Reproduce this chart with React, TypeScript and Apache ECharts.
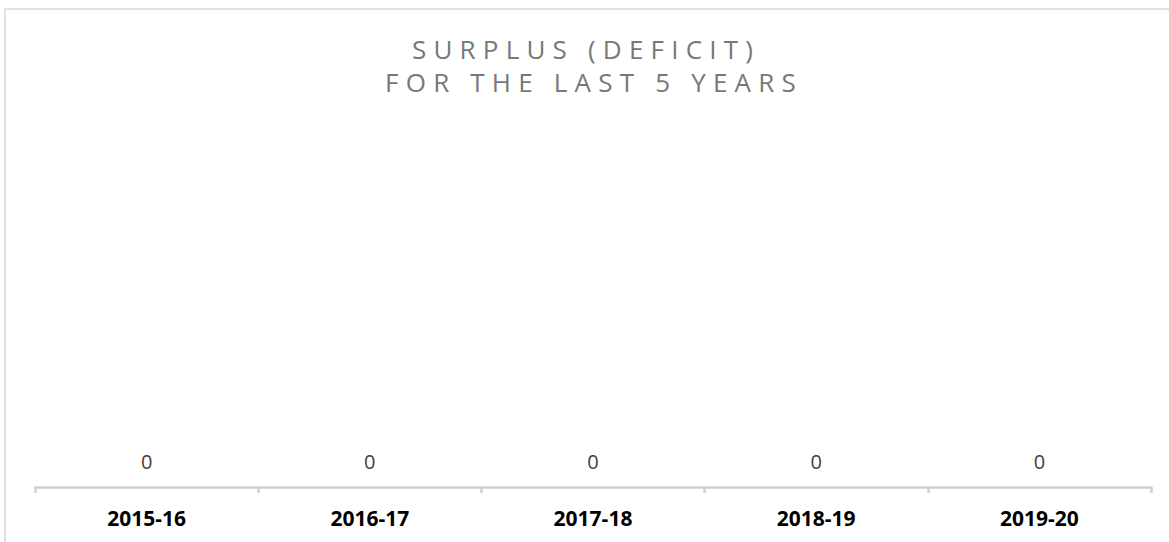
import React, { useEffect, useRef } from "react";
import * as echarts from "echarts";

const categories = ["2015-16", "2016-17", "2017-18", "2018-19", "2019-20"];
const surplusValues = [0, 0, 0, 0, 0];
const titleLines = ["SURPLUS (DEFICIT)", "FOR THE LAST 5 YEARS"];

const TITLE_COLOR = "#787878";

export default function App() {
  const ref = useRef<HTMLDivElement>(null);

  useEffect(() => {
    if (!ref.current) return;
    const chart = echarts.init(ref.current, undefined, { renderer: "svg" });
    const titleStyle = {
      fontFamily: "Open Sans",
      fontSize: 26,
      fontWeight: "normal",
      color: TITLE_COLOR,
      lineHeight: 30,
    };
    chart.setOption({
      animation: false,
      backgroundColor: "#ffffff",
      title: titleLines.map((t, i) => ({
        text: t,
        left: i === 0 ? 586 : 594,
        top: 34 + i * 33,
        textAlign: "center",
        padding: 0,
        textStyle: titleStyle,
      })),
      graphic: [
        {
          type: "rect",
          shape: { x: 5, y: 9, width: 1300, height: 700 },
          style: { fill: "none", stroke: "#d9d9d9", lineWidth: 1.5 },
          silent: true,
          z: 100,
        },
      ],
      grid: { left: 35, right: 18, top: 130, bottom: 55, containLabel: false },
      xAxis: {
        type: "category",
        data: categories,
        axisLine: { show: true, lineStyle: { color: "#d0d0d0", width: 2.5 } },
        axisTick: { show: true, length: 6, lineStyle: { color: "#d0d0d0", width: 2.5 } },
        axisLabel: {
          margin: 20,
          fontFamily: "Open Sans",
          fontSize: 21,
          fontWeight: "bold",
          color: "#000000",
          lineHeight: 22,
        },
        splitLine: { show: false },
      },
      yAxis: {
        type: "value",
        min: 0,
        max: 1,
        show: false,
      },
      series: [
        {
          type: "bar",
          data: surplusValues,
          barWidth: "45%",
          itemStyle: { color: "#4472c4" },
          label: {
            show: true,
            position: "top",
            distance: 16,
            fontFamily: "Open Sans",
            fontSize: 20,
            color: "#404040",
            lineHeight: 20,
          },
        },
      ],
    });
    return () => chart.dispose();
  }, []);

  return (
    <>
      <style>{`
        #root svg text[fill="${TITLE_COLOR}"],
        #root svg text[fill="rgb(120,120,120)"] { letter-spacing: 7.2px; }
      `}</style>
      <div
        ref={ref}
        style={{ position: "absolute", left: 0, top: 0, width: 1169, height: 542 }}
      />
    </>
  );
}
